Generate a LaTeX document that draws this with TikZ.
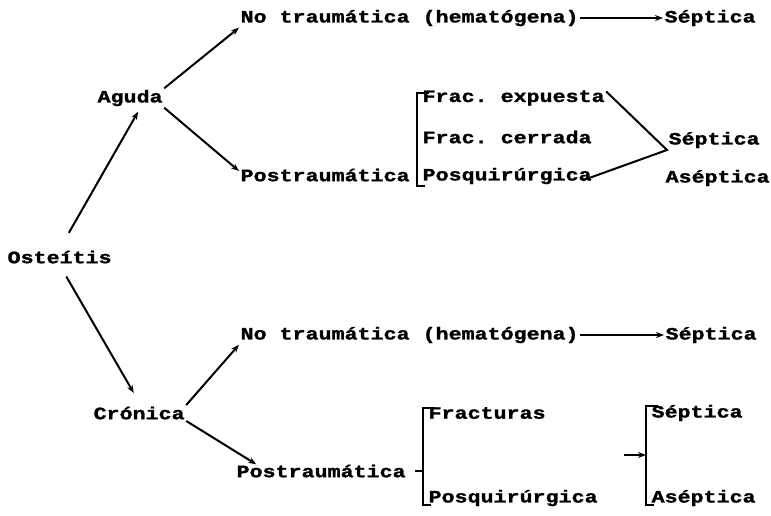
\documentclass[tikz,border=0pt]{standalone}
\usepackage{fontspec}
\setmonofont{Liberation Mono}[FakeStretch=1.25, FakeBold=1.5]
\usetikzlibrary{arrows.meta}
\tikzset{
  lbl/.style={font=\ttfamily\bfseries\fontsize{13}{15}\selectfont, inner sep=1pt, anchor=west},
  ln/.style={draw=black, line width=1.5pt},
}
\begin{document}
\begin{tikzpicture}[x=0.75pt, y=-0.75pt, >={Stealth[length=6pt,width=4.5pt]}]
\useasboundingbox (0,0) rectangle (771,516);
%% root and first level
\node[lbl] (osteitis) at (6,257) {Osteítis};
\node[lbl] (aguda) at (96,98) {Aguda};
\node[lbl] (cronica) at (92,413) {Crónica};
\draw [->, ln, shorten <=14pt] (osteitis.north) -- ([xshift=6pt,yshift=-3pt]aguda.south);
\draw [->, ln, shorten <=10pt] (osteitis.south) -- ([xshift=-4pt,yshift=9pt]cronica.north);
%% aguda
\node[lbl] (notA) at (239,18) {No traumática (hematógena)};
\node[lbl] (septA) at (663,18) {Séptica};
\node[lbl] (postA) at (239,175) {Postraumática};
\draw [->, ln] (aguda.north east) -- (notA.south west);
\draw [->, ln] (aguda.south east) -- ([yshift=-3pt]postA.north west);
\draw [->, ln] (notA.east) -- (septA.west);
\node[lbl] (expA) at (421,98) {Frac. expuesta};
\node[lbl] (cerA) at (421,137) {Frac. cerrada};
\node[lbl] (posA) at (421,176) {Posquirúrgica};
\draw [ln] ([xshift=6pt,yshift=-3pt]expA.north west) -| ([xshift=-3pt]posA.south west) -- ++(8,0);
\coordinate (joinA) at (667,150);
\node[lbl] (septB) at (667,140) {Séptica};
\node[lbl] (asepB) at (664,178) {Aséptica};
\draw [ln] ([yshift=-2pt]expA.north east) -- (joinA) -- ([xshift=-8pt,yshift=4pt]posA.south east);
%% cronica
\node[lbl] (notC) at (239,335) {No traumática (hematógena)};
\node[lbl] (septC) at (664,335) {Séptica};
\node[lbl] (postC) at (235,471) {Postraumática};
\draw [->, ln] (cronica.north east) -- (notC.south west);
\draw [->, ln] (cronica.south east) -- ([xshift=16pt,yshift=-1pt]postC.north west);
\draw [->, ln] (notC.east) -- (septC.west);
\node[lbl] (fracC) at (427,413) {Fracturas};
\node[lbl] (posC) at (427,498) {Posquirúrgica};
\draw [ln] ([xshift=6pt,yshift=-2pt]fracC.north west) -| ([xshift=-3pt,yshift=2pt]posC.south west) -- ++(8,0);
\draw [ln] ([xshift=6pt]postC.east) -- ([xshift=-3pt]postC.east -| posC.west);
\node[lbl] (septD) at (650,413) {Séptica};
\node[lbl] (asepD) at (650,498) {Aséptica};
\draw [ln] ([xshift=6pt,yshift=-2pt]septD.north west) -| ([xshift=-3pt,yshift=2pt]asepD.south west) -- ++(8,0);
\coordinate (brkD) at (646,455);
\draw [->, ln] (brkD) ++(-22,0) -- (brkD);
\end{tikzpicture}
\end{document}
